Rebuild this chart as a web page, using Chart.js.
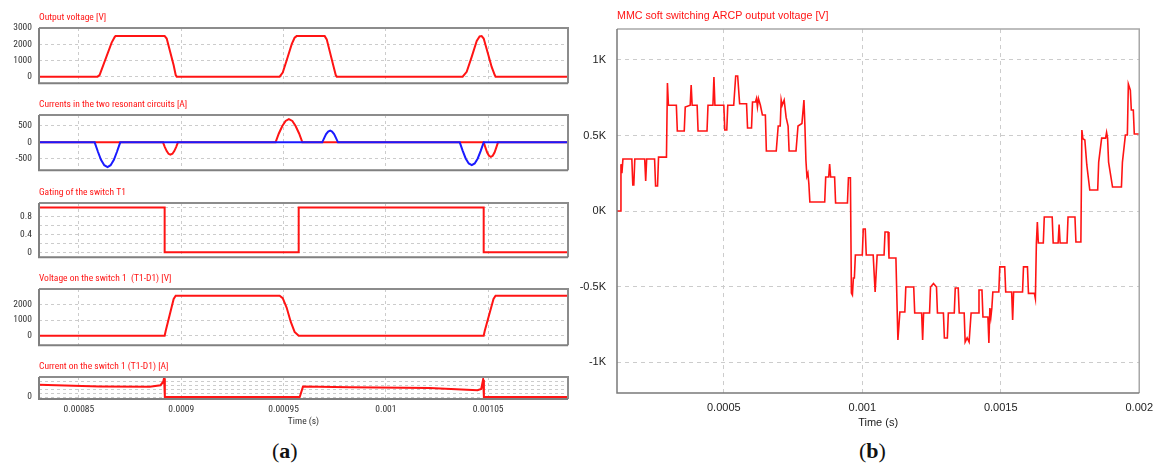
<!DOCTYPE html>
<html>
<head>
<meta charset="utf-8">
<title>ARCP waveforms</title>
<script src="https://cdn.jsdelivr.net/npm/chart.js@4.4.0/dist/chart.umd.min.js"></script>
<style>
  body { margin: 0; background: #fff; width: 1161px; height: 468px; position: relative; overflow: hidden; }
  canvas { position: absolute; }
  .cap { position: absolute; font-family: 'Liberation Serif', 'DejaVu Serif', serif; font-size: 22px; line-height: 22px; color: #111; }
</style>
</head>
<body>
<canvas id="p1"></canvas>
<canvas id="p2"></canvas>
<canvas id="p3"></canvas>
<canvas id="p4"></canvas>
<canvas id="p5"></canvas>
<canvas id="pb"></canvas>
<div class="cap" style="left:272px; top:440px">(<b>a</b>)</div>
<div class="cap" style="left:859px; top:440px">(<b>b</b>)</div>
<script>
// ---------- (a) zoom on one switching period, time in microseconds ----------
const aTimeTickVals = [850, 900, 950, 1000, 1050];
const aTimeTickLabels = ['0.00085', '0.0009', '0.00095', '0.001', '0.00105'];

// output voltage [V]
const outTime = [830.5, 859.1, 860.1, 861.6, 866.0, 867.5, 867.9, 891.9, 892.9, 896.3, 897.3, 897.8,
  948.1, 949.6, 951.5, 954.0, 955.4, 956.4, 970.1, 971.1, 974.5, 975.5, 976.0,
  1037.5, 1039.5, 1041.9, 1044.4, 1045.8, 1046.8, 1047.8, 1049.7, 1051.7, 1053.2, 1053.6, 1089];
const outVolt = [0, 0, 100, 600, 2100, 2450, 2500, 2500, 2350, 700, 100, 0,
  0, 250, 1000, 2000, 2400, 2500, 2500, 2300, 600, 100, 0,
  0, 300, 1200, 2200, 2480, 2500, 2350, 1500, 600, 100, 0, 0];
const outTicks = [0, 1000, 2000, 3000];

// resonant circuit currents [A]
const resRedTime = [830.5, 891.1, 892.0, 892.9, 893.8, 894.7, 895.7, 896.6, 897.5, 898.4,
  946.1, 947.7, 949.4, 951.0, 952.6, 954.3, 955.9, 957.6, 959.2,
  1047.8, 1048.7, 1049.5, 1050.4, 1051.3, 1052.2, 1053.1, 1053.9, 1054.8, 1089];
const resRedCurr = [0, 0, -142, -263, -344, -372, -344, -263, -142, 0,
  0, 266, 491, 641, 694, 641, 491, 266, 0,
  0, -167, -308, -403, -436, -403, -308, -167, 0, 0];
const resBlueTime = [830.5, 857.7, 859.3, 860.8, 862.4, 864.0, 865.5, 867.1, 868.6, 870.2,
  968.9, 969.9, 970.8, 971.8, 972.8, 973.7, 974.7, 975.6, 976.6,
  1036.1, 1037.6, 1039.0, 1040.5, 1042.0, 1043.4, 1044.9, 1046.3, 1047.8, 1089];
const resBlueCurr = [0, 0, -284, -525, -686, -742, -686, -525, -284, 0,
  0, 134, 247, 323, 350, 323, 247, 134, 0,
  0, -263, -485, -634, -686, -634, -485, -263, 0, 0];
const resTicks = [-500, 0, 500];

// gating of T1
const gateTime = [830.5, 891.9, 891.9, 957.4, 957.4, 1047.8, 1047.8, 1089];
const gateLevel = [1, 1, 0, 0, 1, 1, 0, 0];
const gateGrid = [0, 0.2, 0.4, 0.6, 0.8, 1.0];
const gateTickVals = [0, 0.4, 0.8];
const gateTickLabels = ['0', '0.4', '0.8'];

// voltage on switch 1 [V]
const swVoltTime = [830.5, 891.9, 892.4, 896.3, 897.3, 948.1, 949.6, 951.5, 953.5, 955.4, 957.4,
  1047.8, 1048.3, 1052.6, 1053.6, 1089];
const swVolt = [0, 0, 300, 2350, 2550, 2550, 2400, 1800, 900, 250, 0, 0, 300, 2350, 2550, 2550];
const swVoltTicks = [0, 1000, 2000];

// current on switch 1 [A]
const swCurrTime = [830.5, 860.1, 884.6, 889.9, 891.2, 891.6, 892.0, 957.9, 959.5, 982.3,
  1021.4, 1044.8, 1046.6, 1047.5, 1047.9, 1089];
const swCurr = [615, 530, 510, 590, 765, 940, 0, 0, 520, 490, 450, 340, 400, 865, 0, 0];
const swCurrGrid = [0, 200, 400, 600, 800, 1000];
const swCurrTicks = [0];

// ---------- (b) MMC output voltage over the period, time in microseconds ----------
const mmcTime = [114.3, 128.6, 128.6, 132.1, 135.7, 167.9, 171.4, 175.0, 178.6, 214.3, 217.9, 221.4,
  250.0, 253.6, 260.7, 264.3, 292.9, 296.4, 300.0, 328.6, 332.1, 357.1, 360.7, 378.6, 382.1, 385.7,
  403.6, 407.1, 439.3, 442.9, 460.7, 464.3, 467.9, 500, 503.6, 510.7, 514.3, 535.7, 542.9, 550,
  557.1, 582.1, 585.7, 600, 603.6, 614.3, 617.9, 621.4, 625, 632.1, 639.3, 650, 653.6, 689.3,
  696.4, 703.6, 707.1, 710.7, 717.9, 725, 732.1, 735.7, 760.7, 767.9, 782.1, 789.3, 792.9, 796.4,
  800, 803.6, 807.1, 810.7, 864.3, 867.9, 878.6, 882.1, 885.7, 900, 903.6, 946.4, 950, 957.1,
  960.7, 964.3, 967.9, 971.4, 975, 1000, 1003.6, 1010.7, 1014.3, 1039.3, 1046.4, 1053.6, 1078.6,
  1082.1, 1092.9, 1096.4, 1121.4, 1128.6, 1135.7, 1153.6, 1157.1, 1185.7, 1189.3, 1214.3, 1217.9,
  1221.4, 1242.9, 1246.4, 1257.1, 1267.9, 1271.4, 1292.9, 1296.4, 1307.1, 1310.7, 1332.1, 1335.7,
  1346.4, 1350, 1367.9, 1371.4, 1378.6, 1385.7, 1392.9, 1417.9, 1421.4, 1432.1, 1435.7, 1453.6,
  1457.1, 1460.7, 1464.3, 1467.9, 1471.4, 1492.9, 1496.4, 1514.3, 1517.9, 1539.3, 1542.9, 1546.4,
  1578.6, 1582.1, 1596.4, 1600, 1621.4, 1625, 1628.6, 1632.1, 1635.7, 1653.6, 1657.1, 1685.7,
  1689.3, 1707.1, 1710.7, 1714.3, 1739.3, 1742.9, 1767.9, 1771.4, 1789.3, 1792.9, 1796.4, 1803.6,
  1810.7, 1821.4, 1850, 1853.6, 1864.3, 1878.6, 1882.1, 1885.7, 1889.3, 1903.6, 1935.7, 1939.3,
  1950, 1957.1, 1960.7, 1967.9, 1971.4, 1978.6, 1982.1, 2000];
const mmcVolt = [0, 0, 310, 250, 344, 344, 172, 172, 344, 344, 199, 344,
  344, 166, 166, 357, 357, 847, 700, 700, 530, 530, 688, 700, 834, 700,
  700, 530, 530, 700, 700, 887, 700, 700, 536, 536, 700, 700, 894, 894,
  710, 710, 550, 550, 722, 722, 745, 690, 745, 700, 636, 636, 397, 397,
  563, 563, 735, 700, 735, 620, 563, 397, 397, 563, 580, 735, 560, 338,
  230, 250, 180, 60, 60, 225, 225, 311, 225, 225, 53, 53, 220, 220,
  -543, -556, -444, -444, -291, -291, -119, -119, -291, -291, -536, -291, -291,
  -139, -139, -311, -311, -854, -669, -669, -503, -503, -675, -675, -854,
  -675, -675, -503, -480, -503, -675, -675, -841, -841, -675, -675, -510,
  -510, -675, -675, -867, -840, -867, -675, -675, -523, -523, -702, -702,
  -874, -642, -702, -640, -536, -536, -370, -370, -536, -536, -722, -536,
  -536, -370, -370, -545, -545, -580, -212, -73, -212, -212, -40, -40,
  -212, -212, -90, -212, -212, -40, -40, -205, -205, 536, 480, 470,
  305, 139, 139, 324, 483, 483, 520, 483, 324, 159, 159, 324,
  503, 503, 841, 800, 669, 669, 510, 510];
const mmcTimeTickVals = [500, 1000, 1500, 2000];
const mmcTimeTickLabels = ['0.0005', '0.001', '0.0015', '0.002'];
const mmcVoltTickVals = [-1000, -500, 0, 500, 1000];
const mmcVoltTickLabels = ['-1K', '-0.5K', '0K', '0.5K', '1K'];

// ---------- helpers ----------
const RED = '#ff1414';
const BLUE = '#1a1aff';
const GRID = '#cccccc';

// the simulator strips use a narrow sans
const SMALL = { family: "'Roboto Condensed', 'Liberation Sans Narrow', sans-serif", size: 9.5 };
const WIDE = "'Liberation Sans', Arial, sans-serif";

function pts(ts, vs) { return ts.map((t, i) => ({ x: t, y: vs[i] })); }

function labeler(vals, labels) {
  return v => {
    const i = vals.findIndex(t => Math.abs(t - v) < 1e-6);
    return i < 0 ? '' : labels[i];
  };
}
// put ticks (and so grid lines) exactly where the original plot has them
function fixedTicks(vals) {
  return s => { s.ticks = vals.map(v => ({ value: v })); };
}

// box around the plot area
const frame = {
  id: 'frame',
  afterDraw(chart, args, opts) {
    const { ctx, chartArea: a } = chart;
    ctx.save();
    ctx.lineWidth = opts.width;
    ctx.strokeStyle = opts.light;
    ctx.beginPath();
    ctx.moveTo(a.left, a.top); ctx.lineTo(a.right, a.top); ctx.lineTo(a.right, a.bottom);
    ctx.stroke();
    ctx.strokeStyle = opts.dark;
    ctx.beginPath();
    ctx.moveTo(a.left, a.top); ctx.lineTo(a.left, a.bottom); ctx.lineTo(a.right, a.bottom);
    ctx.stroke();
    ctx.restore();
  }
};

function place(id, left, top, width, height) {
  const cv = document.getElementById(id);
  cv.style.left = left + 'px';
  cv.style.top = top + 'px';
  cv.width = width;
  cv.height = height;
  return cv;
}

// one strip of the left figure; box = plot area in page pixels
function stripA(id, box, title, datasets, y, withTime) {
  const below = withTime ? 29 : 8;
  const cv = place(id, 0, box.top - 18, 575, box.bottom - box.top + 18 + below);
  return new Chart(cv, {
    type: 'line',
    data: { datasets },
    plugins: [frame],
    options: {
      responsive: false,
      animation: false,
      events: [],
      layout: { padding: { top: 0, left: 0, right: 575 - box.right, bottom: withTime ? 0 : below } },
      elements: { point: { radius: 0 }, line: { tension: 0, borderWidth: 2 } },
      plugins: {
        legend: { display: false },
        tooltip: { enabled: false },
        title: {
          display: true, text: title, align: 'start', fullSize: false, color: RED,
          font: { family: SMALL.family, size: SMALL.size, weight: 'normal', lineHeight: 12 / SMALL.size },
          padding: { top: 2, bottom: 4 }
        },
        frame: { width: 2, dark: '#808080', light: '#8c8c8c' }
      },
      scales: {
        x: {
          type: 'linear', min: 830.5, max: 1089,
          afterBuildTicks: fixedTicks(aTimeTickVals),
          afterFit: s => { s.height = withTime ? below : 0; },
          ticks: {
            display: withTime, autoSkip: false, padding: 5, maxRotation: 0,
            color: '#333', font: { family: SMALL.family, size: SMALL.size },
            callback: labeler(aTimeTickVals, aTimeTickLabels)
          },
          title: {
            display: withTime, text: 'Time (s)', color: '#333', padding: 0,
            font: { family: SMALL.family, size: SMALL.size, lineHeight: 12 / SMALL.size }
          },
          grid: { color: GRID, drawTicks: false },
          border: { display: false, dash: [3, 3] }
        },
        y: {
          type: 'linear', min: y.min, max: y.max,
          afterBuildTicks: fixedTicks(y.grid),
          afterFit: s => { s.width = box.left; },
          ticks: {
            autoSkip: false, padding: 7,
            color: '#333', font: { family: SMALL.family, size: SMALL.size },
            callback: labeler(y.vals, y.labels)
          },
          grid: { color: GRID, drawTicks: false },
          border: { display: false, dash: [3, 3] }
        }
      }
    }
  });
}

function trace(values, times, color, order) {
  return { data: pts(times, values), borderColor: color, order: order || 0 };
}

stripA('p1', { left: 39, top: 28, right: 568, bottom: 88 }, 'Output voltage [V]',
  [trace(outVolt, outTime, RED)],
  { min: -410, max: 3000, grid: outTicks, vals: outTicks, labels: outTicks.map(String) });

stripA('p2', { left: 39, top: 115, right: 568, bottom: 175 }, 'Currents in the two resonant circuits [A]',
  [trace(resRedCurr, resRedTime, RED, 1), trace(resBlueCurr, resBlueTime, BLUE, 0)],
  { min: -840, max: 820, grid: resTicks, vals: resTicks, labels: resTicks.map(String) });

stripA('p3', { left: 39, top: 203, right: 568, bottom: 262 }, 'Gating of the switch T1',
  [trace(gateLevel, gateTime, RED)],
  { min: -0.11, max: 1.1, grid: gateGrid, vals: gateTickVals, labels: gateTickLabels });

stripA('p4', { left: 39, top: 289, right: 568, bottom: 350 }, 'Voltage on the switch 1  (T1-D1) [V]',
  [trace(swVolt, swVoltTime, RED)],
  { min: -606, max: 2982, grid: swVoltTicks, vals: swVoltTicks, labels: swVoltTicks.map(String) });

stripA('p5', { left: 39, top: 377, right: 568, bottom: 399 }, 'Current on the switch 1 (T1-D1) [A]',
  [trace(swCurr, swCurrTime, RED)],
  { min: -100, max: 1000, grid: swCurrGrid, vals: swCurrTicks, labels: swCurrTicks.map(String) }, true);

// ---------- right figure ----------
(function () {
  const left = 575, boxLeft = 617, boxRight = 1146, boxBottom = 393;
  const cv = place('pb', left, 0, 1161 - left, boxBottom + 37);
  new Chart(cv, {
    type: 'line',
    data: { datasets: [{ data: pts(mmcTime, mmcVolt), borderColor: RED, borderWidth: 1.6 }] },
    plugins: [frame],
    options: {
      responsive: false,
      animation: false,
      events: [],
      layout: { padding: { top: 0, left: 0, right: 1161 - boxRight, bottom: 0 } },
      elements: { point: { radius: 0 }, line: { tension: 0 } },
      plugins: {
        legend: { display: false },
        tooltip: { enabled: false },
        title: {
          display: true, text: 'MMC soft switching ARCP output voltage [V]', align: 'start', fullSize: false,
          color: RED, font: { family: WIDE, size: 10.7, weight: 'normal', lineHeight: 1.2 },
          padding: { top: 9.6, bottom: 6.6 }
        },
        frame: { width: 1.5, dark: '#7a7a7a', light: '#a8a8a8' }
      },
      scales: {
        x: {
          type: 'linear', min: 114.3, max: 2000,
          afterBuildTicks: fixedTicks(mmcTimeTickVals),
          afterFit: s => { s.height = 37; },
          ticks: {
            autoSkip: false, padding: 8, maxRotation: 0,
            color: '#222', font: { family: WIDE, size: 11 },
            callback: labeler(mmcTimeTickVals, mmcTimeTickLabels)
          },
          title: { display: true, text: 'Time (s)', color: '#222', padding: 0, font: { family: WIDE, size: 11 } },
          grid: { color: GRID, drawTicks: false },
          border: { display: false, dash: [4, 4] }
        },
        y: {
          type: 'linear', min: -1205, max: 1205,
          afterBuildTicks: fixedTicks(mmcVoltTickVals),
          afterFit: s => { s.width = boxLeft - left; },
          ticks: {
            autoSkip: false, padding: 11,
            color: '#222', font: { family: WIDE, size: 11 },
            callback: labeler(mmcVoltTickVals, mmcVoltTickLabels)
          },
          grid: { color: GRID, drawTicks: false },
          border: { display: false, dash: [4, 4] }
        }
      }
    }
  });
})();
</script>
</body>
</html>
